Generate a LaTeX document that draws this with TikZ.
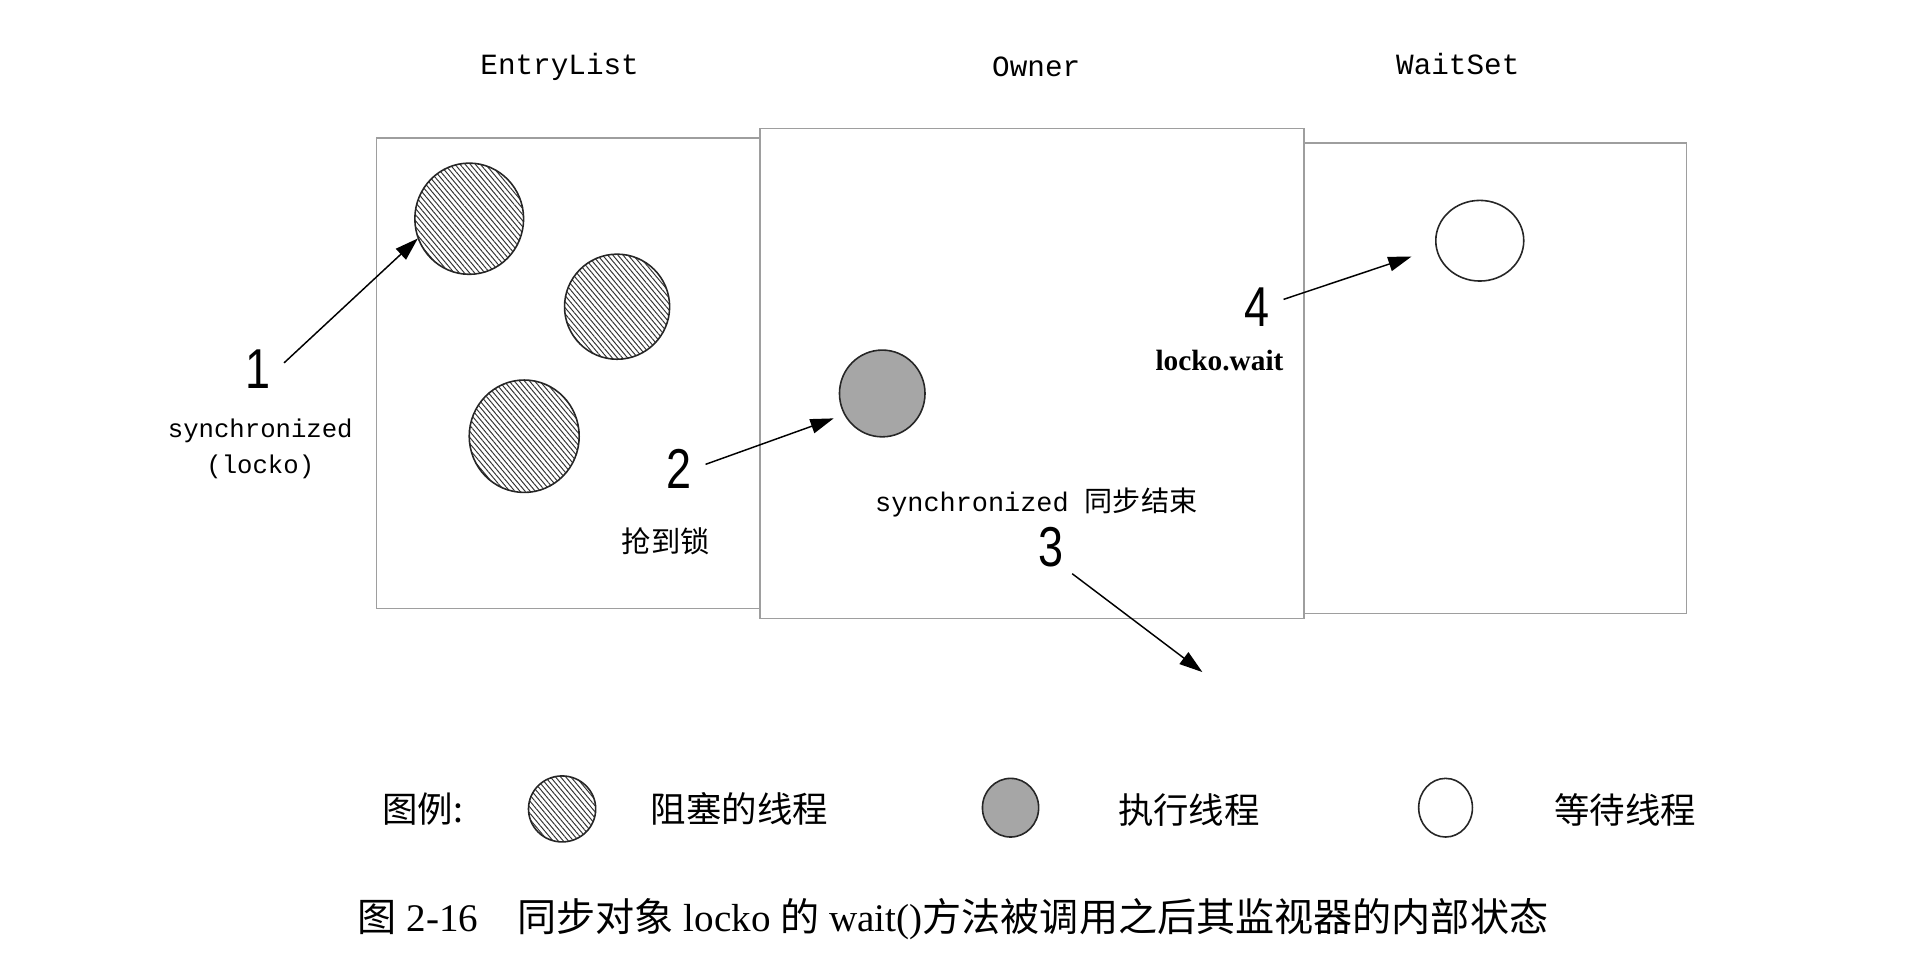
\documentclass[tikz,border=0pt]{standalone}
\usepackage{fontspec}
\usepackage{xcolor}
\usetikzlibrary{
  arrows.meta,
  shapes.geometric,
  patterns.meta,
  positioning
}
\newfontfamily\cjk{Noto Sans CJK SC}
\newfontfamily\monofnt{Liberation Mono}
\newfontfamily\numfnt[FakeStretch=0.8]{Liberation Sans}
\newfontfamily\serifnt{Liberation Serif}

\begin{document}
\begin{tikzpicture}[x=1pt, y=-1pt,
  pane/.style 2 args={draw=black!38, line width=1.2pt, minimum width=#1, minimum height=#2, inner sep=0pt},
  thread/.style={ellipse, draw=black!85, line width=1.3pt, inner sep=0pt},
  blocked/.style={thread, pattern={Lines[angle=-50, distance=3.2pt, line width=0.8pt]}, pattern color=black!80},
  running/.style={thread, fill=black!35},
  waiting/.style={thread, fill=white},
  arr/.style={-{Triangle[length=19pt, width=12pt]}, line width=1.2pt},
  boxtitle/.style={font=\monofnt\fontsize{24}{28}\selectfont},
  numlbl/.style={font=\numfnt\fontsize{46}{50}\selectfont, inner sep=0pt},
  note/.style={font=\monofnt\fontsize{21}{29}\selectfont, align=center, inner sep=0pt},
  cjknote/.style={font=\cjk\fontsize{24}{28}\selectfont, inner sep=0pt},
  legendtxt/.style={font=\cjk\fontsize{29}{32}\selectfont, inner sep=0pt}
]
  \useasboundingbox (0,0) rectangle (1568,786);

  % the three areas of the monitor
  \node[pane={314pt}{385pt}] (entry) at (465,305.5) {};
  \node[pane={313pt}{385pt}] (wait) at (1223.5,309.5) {};
  \node[pane={445pt}{401pt}] (owner) at (844.5,305.5) {};
  \foreach \n/\px/\py/\ttl in {entrytitle/458/55/{EntryList}, ownertitle/848/55/{Owner}, waittitle/1193/52/{WaitSet}}{
    \node[boxtitle] (\n) at (\px,\py) {\ttl};
  }

  % threads
  \foreach \i/\px/\py/\w/\h in {1/384/179/89/91, 2/505/251/86/86, 3/429/357/90/92}{
    \node[blocked, minimum width=\w pt, minimum height=\h pt] (blk\i) at (\px,\py) {};
  }
  \node[running, minimum width=70pt, minimum height=71pt] (run) at (722,322) {};
  \node[waiting, minimum width=72pt, minimum height=66pt] (idle) at (1211,197) {};

  % steps
  \node[numlbl] (num1) at (211,302) {1};
  \node[note] (sync1) at (213,367.5) {synchronized\\(locko)};
  \node[numlbl] (num2) at (556,384) {2};
  \node[cjknote] (grab) at (545,443) {抢到锁};
  \node[note, font=\monofnt\fontsize{22}{26}\selectfont] (syncend) at (848,411) {synchronized {\cjk\fontsize{23}{26}\selectfont 同步结束}};
  \node[numlbl] (num3) at (860,448) {3};
  \node[numlbl] (num4) at (1029,251) {4};
  \node[font=\serifnt\bfseries\fontsize{24}{28}\selectfont, inner sep=0pt] (lockwait) at (998,295) {locko.wait};
  \coordinate (exit) at (984,550);

  \draw[arr] ([shift={(11,-5)}]num1.east) -- (blk1.201);
  \draw[arr, shorten >=9pt] ([shift={(11,-4)}]num2.east) -- (run.209);
  \draw[arr] ([shift={(7,5)}]num3.south east) -- (exit);
  \draw[arr, shorten >=21pt] ([shift={(11,-6)}]num4.east) -- (idle.190);

  % legend
  \node[legendtxt] (lgd) at (346,662) {图例:};
  \node[blocked, minimum width=55pt, minimum height=54pt] (lgblk) at (460,662) {};
  \node[legendtxt] (lgblktxt) at (605,662) {阻塞的线程};
  \node[running, minimum width=46pt, minimum height=48pt] (lgrun) at (827,661) {};
  \node[legendtxt] (lgruntxt) at (973,663) {执行线程};
  \node[waiting, minimum width=44pt, minimum height=48pt] (lgidle) at (1183,661) {};
  \node[legendtxt] (lgidletxt) at (1330,663) {等待线程};

  % caption
  \node[font=\serifnt\fontsize{32}{36}\selectfont, inner sep=0pt] (caption) at (780,752)
    {{\cjk 图} 2-16\quad{\cjk 同步对象} locko {\cjk 的} wait(){\cjk 方法被调用之后其监视器的内部状态}};
\end{tikzpicture}
\end{document}
